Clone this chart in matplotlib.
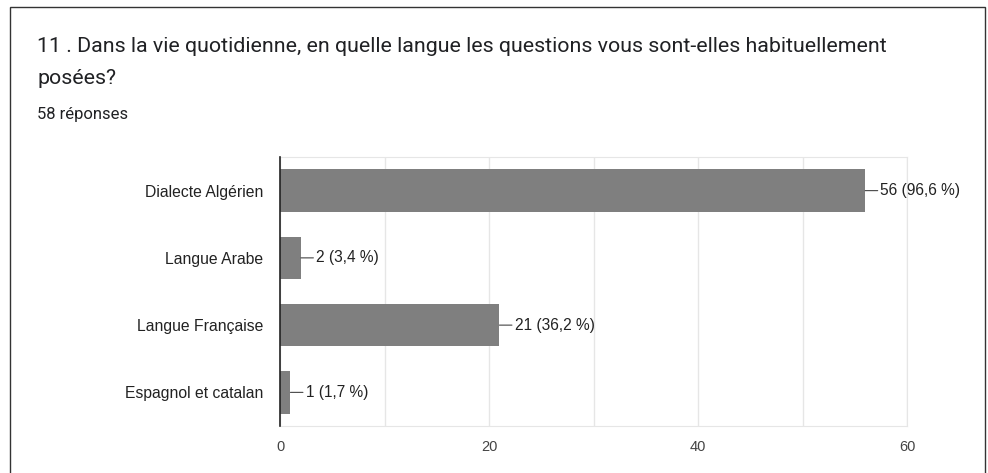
import matplotlib.pyplot as plt
from matplotlib.patches import Rectangle

categories = ['Dialecte Algérien', 'Langue Arabe', 'Langue Française', 'Espagnol et catalan']
counts = [56, 2, 21, 1]
percents = ['96,6', '3,4', '36,2', '1,7']
xticks = [0, 20, 40, 60]

plt.rcParams['font.family'] = ['Liberation Sans', 'DejaVu Sans']

fig = plt.figure(figsize=(9.88, 4.73), dpi=100)

# cadre de la carte
fig.patches.append(Rectangle((9.5 / 988, -0.1), 975 / 988, 1.1 - 7.5 / 473,
                             transform=fig.transFigure, fill=False,
                             edgecolor='#333333', lw=1.0))

fig.text(37 / 988, 1 - 47 / 473,
         '11 . Dans la vie quotidienne, en quelle langue les questions vous sont-elles habituellement',
         fontsize=15.4, family='Roboto', color='#202124', va='center')
fig.text(37 / 988, 1 - 78 / 473, 'posées?', fontsize=15.4, family='Roboto',
         color='#202124', va='center')
fig.text(37 / 988, 1 - 114 / 473, '58 réponses', fontsize=12, family='Roboto',
         color='#202124', va='center')

ax = fig.add_axes([280 / 988, 1 - 426 / 473, 627 / 988, 269 / 473])
y = range(len(categories))
ax.barh(y, counts, height=0.63, color='#7f7f7f', zorder=2)
ax.set_ylim(len(categories) - 0.5, -0.5)
ax.set_xlim(0, 60)
ax.set_yticks(list(y))
ax.set_yticklabels(categories, fontsize=11.3, color='#222222')
ax.set_xticks(xticks)
ax.set_xticklabels([str(t) for t in xticks], fontsize=10.5, color='#444444')
ax.set_xticks([10, 30, 50], minor=True)
ax.tick_params(axis='both', length=0, which='both')
ax.tick_params(axis='y', pad=12)
ax.tick_params(axis='x', pad=10)
ax.grid(axis='x', which='both', color='#e6e6e6', lw=1, zorder=0)

for s in ['top', 'bottom', 'right']:
    ax.spines[s].set_color('#e6e6e6')
ax.spines['left'].set_color('#222222')
ax.spines['left'].set_linewidth(1.2)
ax.spines['left'].set_zorder(3)

for i, (c, p) in enumerate(zip(counts, percents)):
    ax.annotate(f'{c} ({p} %)', xy=(c, i), xytext=(11, 0), textcoords='offset points',
                ha='left', va='center', fontsize=11.2, color='#222222',
                arrowprops=dict(arrowstyle='-', color='#444444', lw=0.8,
                                shrinkA=0, shrinkB=0, relpos=(0, 0.5)),
                annotation_clip=False)

fig.savefig('out.png', dpi=100)
